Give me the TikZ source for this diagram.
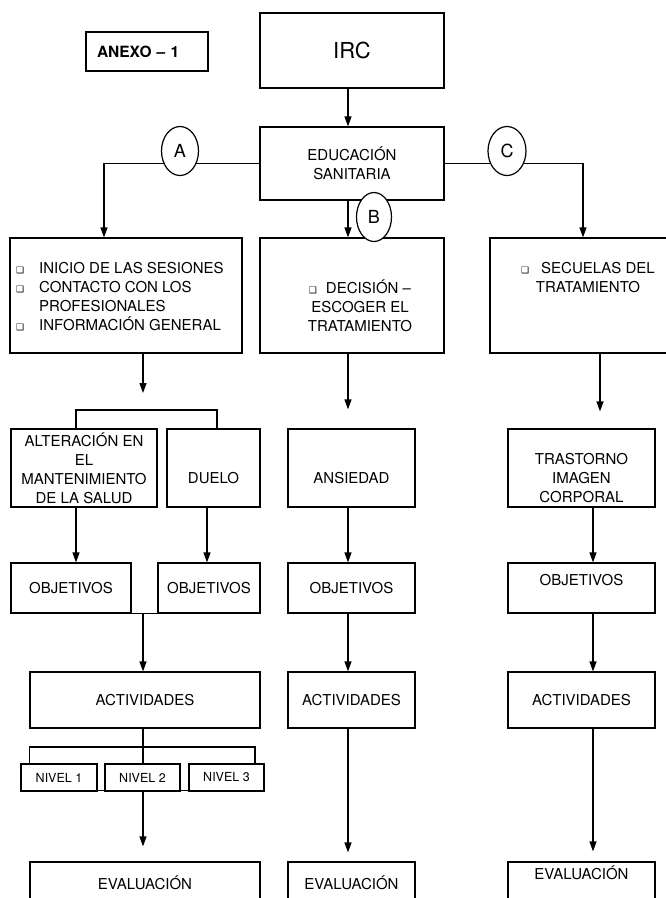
\documentclass[tikz,border=0pt]{standalone}
\usepackage{fontspec}
\setmainfont{TeX Gyre Heros}
\newfontfamily\dejavu{DejaVu Sans}
\usepackage{tikz}
\usetikzlibrary{arrows.meta}
\usetikzlibrary{shapes.geometric}
\newcommand{\bul}[1]{\makebox[#1][l]{{\dejavu\fontsize{9}{9}\selectfont ❑}}}
\newcommand{\widthbig}{184pt}
\newcommand{\widthmid}{127pt}
\newcommand{\widthright}{147pt}
\tikzset{
    common/.style={draw, rectangle, line width=1.2pt, inner sep=0pt, align=center, font=\fontsize{15}{19}\selectfont},
    bigbox/.style={common, minimum width=\widthbig},
    midbox/.style={common, minimum width=\widthmid},
    rightbox/.style={common, minimum width=\widthright},
    nivel/.style={common, fill=white, minimum height=27pt, font=\fontsize{12.5}{15}\selectfont},
    txt/.style={inner sep=0pt, align=center, font=\fontsize{15}{19}\selectfont},
    letter/.style={draw, ellipse, fill=white, line width=1.2pt, minimum width=37pt, minimum height=49pt, inner sep=0pt, font=\fontsize{18}{18}\selectfont},
    link/.style={line width=1.2pt},
    arr/.style={link, -{Triangle[width=7pt,length=10pt]}}
}

\begin{document}
\begin{tikzpicture}[x=1pt, y=-1pt]
    \useasboundingbox (0,0) rectangle (666,898);
    \clip (0,0) rectangle (666,898);

    \node[common, text width=100pt, inner xsep=11pt, align=left, minimum height=39pt, font=\fontsize{15.5}{17}\selectfont\bfseries] (anexo) at (147,51.5) {ANEXO -- 1};
    \node[bigbox, minimum height=75pt, font=\fontsize{22}{24}\selectfont] (irc) at (352,50.5) {IRC};
    \node[bigbox, minimum height=73pt] (edu) at (352,163.5) {EDUCACIÓN\\SANITARIA};

    \node[common, minimum width=232pt, minimum height=115pt] (ses) at (126,295.5) {};
    \node[bigbox, minimum height=115pt] (dec) at (352,295.5) {};
    \node[common, minimum width=210pt, minimum height=115pt] (sec) at (595,295.5) {};
    \node[txt, anchor=west, align=left] (sesT) at (16,296.5) {\bul{23pt}INICIO DE LAS SESIONES\\\bul{23pt}CONTACTO CON LOS\\\hspace*{23pt}PROFESIONALES\\\bul{23pt}INFORMACIÓN GENERAL};
    \node[txt] (decT) at (360,306) {\bul{17pt}DECISIÓN --\\ESCOGER EL\\TRATAMIENTO};
    \node[txt] (secT) at (588,277.5) {\bul{20pt}SECUELAS DEL\\TRATAMIENTO};

    \node[common, minimum width=146pt, minimum height=78pt] (alt) at (84,468) {ALTERACIÓN EN\\EL\\MANTENIMIENTO\\DE LA SALUD};
    \node[common, minimum width=93pt, minimum height=78pt] (duelo) at (213.5,468) {};
    \node[midbox, minimum height=78pt] (ans) at (351.5,468) {};
    \node[rightbox, minimum height=78pt] (tras) at (581.5,468) {};
    \node[txt] (dueloT) at (213.5,478) {DUELO};
    \node[txt] (ansT) at (351.5,478) {ANSIEDAD};
    \node[txt] (trasT) at (581.5,478.5) {TRASTORNO\\IMAGEN\\CORPORAL};

    \node[common, minimum width=120pt, minimum height=50pt] (obja) at (71,588) {OBJETIVOS};
    \node[common, minimum width=102pt, minimum height=50pt] (objd) at (209,588) {OBJETIVOS};
    \node[midbox, minimum height=50pt] (objb) at (351.5,588) {OBJETIVOS};
    \node[rightbox, minimum height=50pt] (objc) at (581.5,588) {};
    \node[txt] (objcT) at (581.5,580) {OBJETIVOS};

    \node[common, minimum width=230pt, minimum height=56pt] (acta) at (145,700) {ACTIVIDADES};
    \node[midbox, minimum height=56pt] (actb) at (351.5,700) {ACTIVIDADES};
    \node[rightbox, minimum height=56pt] (actc) at (581.5,700) {ACTIVIDADES};

    \node[nivel, minimum width=76pt] (niv1) at (59,777.5) {NIVEL 1};
    \node[nivel, minimum width=75pt] (niv2) at (142.5,777.5) {NIVEL 2};
    \node[nivel, minimum width=75pt] (niv3) at (226.5,777.5) {NIVEL 3};

    \node[common, minimum width=230pt, minimum height=76pt] (evala) at (145,900) {};
    \node[midbox, minimum height=76pt] (evalb) at (351.5,900) {};
    \node[rightbox, minimum height=76pt] (evalc) at (581.5,900) {};
    \node[txt] (evalaT) at (145,883) {EVALUACIÓN};
    \node[txt] (evalbT) at (351.5,883) {EVALUACIÓN};
    \node[txt] (evalcT) at (581.5,873) {EVALUACIÓN};

    \coordinate (xa) at (143,0);
    \coordinate (xb) at (348,0);
    \coordinate (xl) at (104,0);
    \coordinate (xr) at (583,0);
    \coordinate (xs) at (600,0);
    \coordinate (xc) at (593,0);
    \coordinate (xa1) at (76,0);
    \coordinate (xa2) at (207,0);
    \coordinate (xa3) at (217,0);
    \coordinate (xn) at (255,0);
    \coordinate (brA) at (143,410);
    \coordinate (brB) at (143,747);

    \draw[arr] (irc.south -| xb) -- (edu.north -| xb);
    \draw[arr] (edu.west) -| (ses.north -| xl);
    \draw[arr] (edu.east) -| (sec.north -| xr);
    \draw[arr] (edu.south -| xb) -- (dec.north -| xb);

    \draw[arr, shorten >=17pt] (ses.south -| xa) -- (brA);
    \draw[link] (alt.north -| xa1) |- (brA) -| (duelo.north -| xa3);
    \draw[arr, shorten >=19pt] (dec.south -| xb) -- (ans.north -| xb);
    \draw[arr, shorten >=17pt] (sec.south -| xs) -- (tras.north -| xs);

    \draw[arr] (alt.south -| xa1) -- (obja.north -| xa1);
    \draw[arr] (duelo.south -| xa2) -- (objd.north -| xa2);
    \draw[arr] (ans.south -| xb) -- (objb.north -| xb);
    \draw[arr] (tras.south -| xc) -- (objc.north -| xc);

    \draw[link] (obja.south -| xa1) -- (objd.south -| xa3);
    \draw[arr] (obja.south -| xa) -- (acta.north -| xa);
    \draw[arr] (objb.south -| xb) -- (actb.north -| xb);
    \draw[arr] (objc.south -| xc) -- (actc.north -| xc);

    \draw[link] (acta.south -| xa) -- (niv2.north -| xa);
    \draw[link] (niv1.north -| acta.west) |- (brB) -| (niv3.north -| xn);
    \draw[link] ([yshift=1.5pt]niv1.south east) -- ([yshift=1.5pt]niv2.south west);
    \draw[link] ([yshift=1.5pt]niv2.south east) -- ([yshift=1.5pt]niv3.south west);
    \draw[arr, shorten >=15pt] (niv2.south -| xa) -- (evala.north -| xa);
    \draw[arr, shorten >=9pt] (actb.south -| xb) -- (evalb.north -| xb);
    \draw[arr, shorten >=10pt] (actc.south -| xc) -- (evalc.north -| xc);

    \node[letter] (la) at (180,151) {A};
    \node[letter, minimum width=35pt] (lb) at (374,217) {B};
    \node[letter, minimum width=38pt] (lc) at (507,151) {C};
\end{tikzpicture}
\end{document}
